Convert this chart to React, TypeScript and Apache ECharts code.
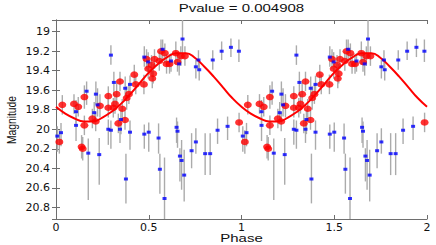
import React, { useEffect, useRef } from "react";
import * as echarts from "echarts";

// Blue measurements (one phase cycle, repeated for phase+1)
const bluePhase = [0.007, 0.027, 0.108, 0.108, 0.165, 0.174, 0.206, 0.215, 0.224, 0.233, 0.282, 0.296, 0.296, 0.312, 0.345, 0.35, 0.373, 0.377, 0.399, 0.399, 0.476, 0.476, 0.497, 0.5, 0.553, 0.56, 0.575, 0.585, 0.62, 0.65, 0.655, 0.664, 0.668, 0.677, 0.682, 0.691, 0.731, 0.754, 0.754, 0.768, 0.772, 0.804, 0.831, 0.845, 0.871, 0.893, 0.925, 0.943, 0.986];
const blueMag = [20.07, 20.035, 19.82, 19.96, 19.61, 20.245, 19.83, 19.64, 19.75, 20.26, 20.0, 20.01, 19.24, 19.52, 20.0, 19.9, 19.58, 20.51, 19.54, 20.03, 19.26, 20.05, 19.31, 20.03, 20.09, 20.41, 19.18, 20.71, 19.3, 19.98, 20.02, 19.33, 20.275, 20.32, 19.075, 20.47, 20.22, 19.36, 20.13, 19.29, 19.39, 20.25, 20.25, 19.29, 20.01, 19.2, 19.97, 19.16, 19.2];
const blueErrUp = [0.1, 0.1, 0.12, 0.1, 0.1, 0.15, 0.11, 0.13, 0.17, 0.17, 0.1, 0.1, 0.1, 0.11, 0.1, 0.1, 0.12, 0.26, 0.09, 0.12, 0.11, 0.1, 0.1, 0.1, 0.15, 0.16, 0.1, 0.42, 0.08, 0.1, 0.1, 0.1, 0.08, 0.21, 0.2, 0.26, 0.18, 0.07, 0.14, 0.1, 0.1, 0.21, 0.21, 0.1, 0.12, 0.1, 0.1, 0.09, 0.12];
const blueErrDown = [0.16, 0.14, 0.12, 0.16, 0.14, 0.48, 0.11, 0.11, 0.12, 0.31, 0.16, 0.19, 0.1, 0.13, 0.14, 0.15, 0.1, 0.25, 0.1, 0.18, 0.1, 0.15, 0.1, 0.2, 0.16, 0.25, 0.12, 0.3, 0.11, 0.16, 0.17, 0.12, 0.26, 0.3, 0.17, 0.27, 0.18, 0.12, 0.12, 0.1, 0.11, 0.22, 0.22, 0.1, 0.14, 0.09, 0.14, 0.1, 0.11];

// Red measurements
const redPhase = [0.018, 0.034, 0.097, 0.12, 0.153, 0.153, 0.138, 0.144, 0.196, 0.214, 0.237, 0.282, 0.282, 0.309, 0.318, 0.327, 0.336, 0.345, 0.357, 0.372, 0.381, 0.393, 0.422, 0.43, 0.474, 0.488, 0.497, 0.515, 0.519, 0.524, 0.531, 0.557, 0.566, 0.587, 0.596, 0.612, 0.646, 0.655, 0.673, 0.695, 0.987];
const redMag = [20.13, 19.75, 19.74, 19.77, 19.67, 19.96, 20.18, 20.2, 19.89, 19.92, 19.76, 19.66, 19.78, 19.78, 19.74, 19.64, 19.94, 19.51, 19.79, 19.905, 19.68, 19.64, 19.44, 19.54, 19.54, 19.28, 19.38, 19.34, 19.48, 19.43, 19.28, 19.3, 19.2, 19.22, 19.33, 19.33, 19.22, 19.31, 19.25, 19.25, 19.93];
const redErr = [0.12, 0.1, 0.1, 0.1, 0.12, 0.1, 0.12, 0.12, 0.1, 0.1, 0.12, 0.1, 0.1, 0.1, 0.1, 0.12, 0.1, 0.1, 0.1, 0.1, 0.12, 0.1, 0.1, 0.1, 0.1, 0.1, 0.1, 0.1, 0.1, 0.1, 0.1, 0.1, 0.12, 0.1, 0.1, 0.1, 0.12, 0.1, 0.1, 0.1, 0.1];

// Fitted curve
const curvePhase = [0, 0.05, 0.1, 0.15, 0.2, 0.25, 0.3, 0.35, 0.4, 0.45, 0.5, 0.55, 0.6, 0.65, 0.7, 0.75, 0.8, 0.85, 0.9, 0.95, 1.0];
const curveMag = [19.77, 19.84, 19.89, 19.92, 19.92, 19.88, 19.82, 19.74, 19.64, 19.53, 19.42, 19.33, 19.26, 19.22, 19.22, 19.27, 19.36, 19.46, 19.57, 19.68, 19.77];

const xTicks = [0, 0.5, 1, 1.5, 2];
const yTicks = [19, 19.2, 19.4, 19.6, 19.8, 20, 20.2, 20.4, 20.6, 20.8];
const titleText = "Pvalue = 0.004908";
const xName = "Phase";
const yName = "Magnitude";

const Y_MIN = 18.88;
const Y_MAX = 20.92;

export default function App() {
  const ref = useRef<HTMLDivElement>(null);
  useEffect(() => {
    document.body.style.margin = "0";
    if (!ref.current) return;
    const chart = echarts.init(ref.current, undefined, { renderer: "svg" });

    const cycles = [0, 1];
    const bluePts: number[][] = [];
    const blueBars: number[][] = [];
    cycles.forEach((c) => {
      bluePhase.forEach((p, i) => {
        bluePts.push([p + c, blueMag[i]]);
        blueBars.push([p + c, blueMag[i] - blueErrUp[i], blueMag[i] + blueErrDown[i]]);
      });
    });
    const redPts: number[][] = [];
    const redBars: number[][] = [];
    cycles.forEach((c) => {
      redPhase.forEach((p, i) => {
        redPts.push([p + c, redMag[i]]);
        redBars.push([p + c, redMag[i] - redErr[i], redMag[i] + redErr[i]]);
      });
    });
    const curve: number[][] = [];
    curvePhase.forEach((p, i) => curve.push([p, curveMag[i]]));
    curvePhase.forEach((p, i) => {
      if (i > 0) curve.push([p + 1, curveMag[i]]);
    });

    const renderBar = (params: any, api: any) => {
      const x = api.value(0);
      const lo = Math.max(Y_MIN, api.value(1));
      const hi = Math.min(Y_MAX, api.value(2));
      const p1 = api.coord([x, lo]);
      const p2 = api.coord([x, hi]);
      return {
        type: "line",
        shape: { x1: p1[0], y1: p1[1], x2: p2[0], y2: p2[1] },
        style: { stroke: "#ababab", lineWidth: 1.4 },
      };
    };

    const font = "Liberation Sans, Arial, Helvetica, sans-serif";
    const tickFont = "DejaVu Sans, Liberation Sans, sans-serif";
    const axisLineStyle = { color: "#6e6e6e", width: 1 };
    const yFormatter = (v: number) => {
      for (const t of yTicks) if (Math.abs(t - v) < 1e-6) return String(t);
      return "";
    };

    chart.setOption({
      animation: false,
      backgroundColor: "#ffffff",
      graphic: [
        {
          type: "text",
          x: 241.5,
          y: 8.5,
          scaleX: 1.5,
          style: {
            text: titleText,
            fontSize: 10,
            fontFamily: font,
            fill: "#111",
            textAlign: "center",
            textVerticalAlign: "middle",
          },
        },
        {
          type: "text",
          x: 241.5,
          y: 238,
          scaleX: 1.5,
          style: {
            text: xName,
            fontSize: 10,
            fontFamily: font,
            fill: "#111",
            textAlign: "center",
            textVerticalAlign: "middle",
          },
        },
        {
          type: "text",
          x: 11.5,
          y: 120,
          rotation: Math.PI / 2,
          scaleY: 1.3,
          style: {
            text: yName,
            fontSize: 10.3,
            fontFamily: font,
            fill: "#111",
            textAlign: "center",
            textVerticalAlign: "middle",
          },
        },
      ],
      grid: { left: 56, right: 9, top: 20, bottom: 26, containLabel: false, outerBoundsMode: "none" },
      xAxis: [
        {
          type: "value",
          min: 0,
          max: 2,
          interval: 0.5,
          axisLine: { show: true, lineStyle: axisLineStyle },
          axisTick: { show: true, inside: true, length: 4, lineStyle: axisLineStyle },
          axisLabel: {
            fontSize: 11,
            fontFamily: tickFont,
            color: "#111",
            margin: 3,
            formatter: (v: number) => (xTicks.indexOf(v) >= 0 ? String(v) : ""),
          },
          splitLine: { show: false },
        },
        {
          type: "value",
          position: "top",
          min: 0,
          max: 2,
          interval: 0.5,
          axisLine: { show: true, lineStyle: axisLineStyle },
          axisTick: { show: true, inside: true, length: 4, lineStyle: axisLineStyle },
          axisLabel: { show: false },
          splitLine: { show: false },
        },
      ],
      yAxis: [
        {
          type: "value",
          inverse: true,
          min: Y_MIN,
          max: Y_MAX,
          splitNumber: 10,
          axisLine: { show: true, lineStyle: axisLineStyle },
          axisTick: { show: true, inside: true, length: 4, lineStyle: axisLineStyle },
          axisLabel: {
            fontSize: 11,
            fontFamily: tickFont,
            color: "#111",
            margin: 6,
            showMinLabel: false,
            showMaxLabel: false,
            formatter: yFormatter,
          },
          splitLine: { show: false },
        },
        {
          type: "value",
          position: "right",
          inverse: true,
          min: Y_MIN,
          max: Y_MAX,
          splitNumber: 10,
          axisLine: { show: true, lineStyle: axisLineStyle },
          axisTick: { show: true, inside: true, length: 4, lineStyle: axisLineStyle },
          axisLabel: { show: false },
          splitLine: { show: false },
        },
      ],
      series: [
        {
          type: "custom",
          clip: true,
          renderItem: renderBar,
          data: blueBars,
          encode: { x: 0, y: [1, 2] },
          z: 1,
        },
        {
          type: "custom",
          clip: true,
          renderItem: renderBar,
          data: redBars,
          encode: { x: 0, y: [1, 2] },
          z: 1,
        },
        {
          type: "line",
          data: curve,
          smooth: true,
          showSymbol: false,
          symbol: "none",
          lineStyle: { color: "#ff0000", width: 2 },
          z: 2,
        },
        {
          type: "scatter",
          data: redPts,
          symbol: "circle",
          symbolSize: [8, 6.5],
          itemStyle: { color: "#ff0000" },
          z: 3,
        },
        {
          type: "scatter",
          data: bluePts,
          symbol: "rect",
          symbolSize: [4, 3],
          itemStyle: { color: "#0000ff" },
          z: 4,
        },
      ],
    });
    return () => chart.dispose();
  }, []);
  return <div ref={ref} style={{ width: 436, height: 245 }} />;
}
